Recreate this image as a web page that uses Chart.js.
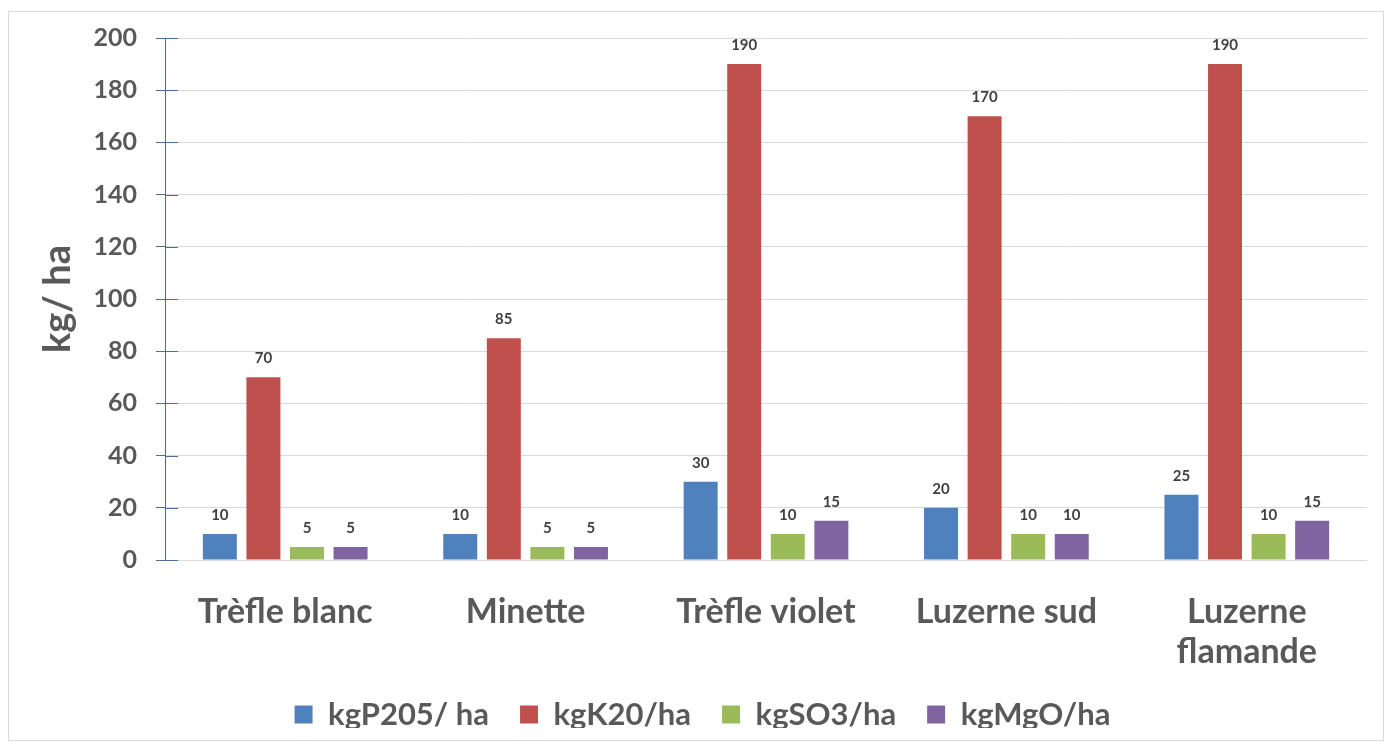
<!DOCTYPE html>
<html>
<head>
<meta charset="utf-8">
<title>Exportations en minéraux des légumineuses</title>
<script src="https://cdn.jsdelivr.net/npm/chart.js@4.4.1/dist/chart.umd.min.js"></script>
<style>
  html, body { margin: 0; padding: 0; background: #ffffff; }
  canvas { display: block; }
</style>
</head>
<body>
<canvas id="chart" width="1387" height="744"></canvas>
<script>
// Crops (x-axis categories)
const categories = ['Trèfle blanc', 'Minette', 'Trèfle violet', 'Luzerne sud', ['Luzerne', 'flamande']];

// Mineral exports per crop, kg/ha
const p2o5 = [10, 10, 30, 20, 25];
const k2o  = [70, 85, 190, 170, 190];
const so3  = [5, 5, 10, 10, 10];
const mgo  = [5, 5, 15, 10, 15];

const seriesNames = ['kgP205/ ha', 'kgK20/ha', 'kgSO3/ha', 'kgMgO/ha'];
const seriesColors = ['#4F81BD', '#C0504D', '#9BBB59', '#8064A2'];

// Y-axis tick range
const yMin = 0;
const yMax = 200;
const yStep = 20;

const FONT = 'Lato, "Open Sans", sans-serif';
const TEXT = '#595959';
const AXIS_BLUE = '#4e6c9b';

// Light frame around the whole chart
const framePlugin = {
  id: 'frame',
  beforeDraw(chart) {
    const ctx = chart.ctx;
    ctx.save();
    ctx.fillStyle = '#ffffff';
    ctx.fillRect(0, 0, chart.width, chart.height);
    ctx.strokeStyle = '#d9d9d9';
    ctx.lineWidth = 1;
    ctx.strokeRect(8.5, 11.5, 1375, 729);
    ctx.restore();
  }
};

// Short tick marks crossing the y axis into the plot area
const crossTicksPlugin = {
  id: 'crossTicks',
  afterDraw(chart) {
    const y = chart.scales.y;
    const ctx = chart.ctx;
    ctx.save();
    ctx.strokeStyle = AXIS_BLUE;
    ctx.lineWidth = 1;
    y.ticks.forEach(t => {
      const py = Math.round(y.getPixelForValue(t.value)) + 0.5;
      ctx.beginPath();
      ctx.moveTo(chart.chartArea.left, py);
      ctx.lineTo(chart.chartArea.left + 13, py);
      ctx.stroke();
    });
    ctx.restore();
  }
};

// Value labels above each bar
const valueLabelsPlugin = {
  id: 'valueLabels',
  afterDatasetsDraw(chart) {
    const ctx = chart.ctx;
    ctx.save();
    ctx.font = 'bold 15px ' + FONT;
    ctx.fillStyle = '#404040';
    ctx.textAlign = 'center';
    ctx.textBaseline = 'alphabetic';
    chart.data.datasets.forEach((ds, i) => {
      const meta = chart.getDatasetMeta(i);
      meta.data.forEach((bar, j) => {
        ctx.fillText(String(ds.data[j]), bar.x, bar.y - 14);
      });
    });
    ctx.restore();
  }
};

// Keep the legend compact vertically while keeping wide gaps between entries
const legendHeightPlugin = {
  id: 'legendHeight',
  afterInit(chart) {
    const lg = chart.legend;
    if (!lg) return;
    const origFit = lg.fit.bind(lg);
    lg.fit = function () {
      origFit();
      this.height = 60;
    };
  }
};

const allSeries = [p2o5, k2o, so3, mgo];

new Chart(document.getElementById('chart'), {
  type: 'bar',
  data: {
    labels: categories,
    datasets: allSeries.map((values, i) => ({
      label: seriesNames[i],
      data: values,
      backgroundColor: seriesColors[i],
      borderWidth: 0,
      categoryPercentage: 0.725,
      barPercentage: 0.78
    }))
  },
  options: {
    responsive: false,
    animation: false,
    devicePixelRatio: 1,
    layout: { padding: { left: 38, right: 20, top: 38, bottom: 16 } },
    plugins: {
      tooltip: { enabled: false },
      legend: {
        position: 'bottom',
        labels: {
          color: TEXT,
          font: { family: FONT, size: 31, weight: 'bold' },
          boxWidth: 18,
          boxHeight: 18,
          padding: 31
        }
      }
    },
    scales: {
      x: {
        grid: { display: false },
        border: { display: false },
        ticks: {
          color: TEXT,
          font: { family: FONT, size: 34, weight: 'bold', lineHeight: 1.18 },
          padding: 24,
          maxRotation: 0,
          autoSkip: false
        },
        afterFit(s) { s.height = 108; }
      },
      y: {
        min: yMin,
        max: yMax,
        grid: {
          color: '#d9d9d9',
          lineWidth: 1,
          tickLength: 9,
          tickColor: AXIS_BLUE
        },
        border: { display: true, color: AXIS_BLUE, width: 1 },
        ticks: {
          stepSize: yStep,
          color: TEXT,
          font: { family: FONT, size: 25, weight: 'bold' },
          padding: 19
        },
        title: {
          display: true,
          text: 'kg/ ha',
          color: TEXT,
          font: { family: FONT, size: 38, weight: 'bold', lineHeight: 1 },
          padding: { top: 1, bottom: 0 }
        },
        afterFit(s) { s.width = 127; }
      }
    }
  },
  plugins: [framePlugin, crossTicksPlugin, valueLabelsPlugin, legendHeightPlugin]
});
</script>
</body>
</html>
